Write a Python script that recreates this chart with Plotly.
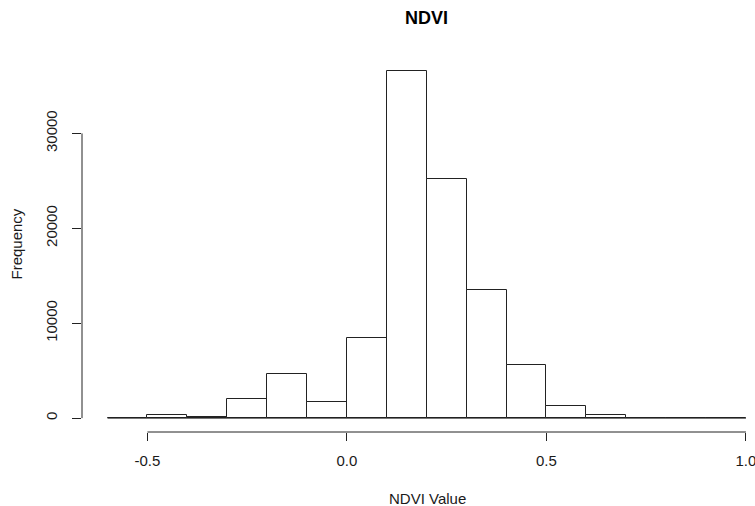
import plotly.graph_objects as go

# Data: histogram of NDVI values (bin edges and counts)
bin_edges = [-0.6, -0.5, -0.4, -0.3, -0.2, -0.1, 0.0, 0.1, 0.2, 0.3, 0.4, 0.5, 0.6, 0.7, 0.8, 0.9, 1.0]
counts = [0, 310, 170, 2060, 4630, 1750, 8420, 36590, 25190, 13540, 5640, 1260, 310, 0, 0, 0]
x_ticks = [-0.5, 0.0, 0.5, 1.0]
x_tick_labels = ["-0.5", "0.0", "0.5", "1.0"]
y_ticks = [0, 10000, 20000, 30000]
y_tick_labels = ["0", "10000", "20000", "30000"]

centers = [(a + b) / 2 for a, b in zip(bin_edges[:-1], bin_edges[1:])]
widths = [b - a for a, b in zip(bin_edges[:-1], bin_edges[1:])]

FONT = "Liberation Sans, Arial, sans-serif"

fig = go.Figure()
fig.add_trace(go.Bar(
    x=centers, y=counts, width=widths,
    marker=dict(color="white", line=dict(color="#222222", width=1)),
    hoverinfo="skip", showlegend=False,
))
# zero-height bins render as a baseline in R
fig.add_trace(go.Scatter(
    x=[bin_edges[0], bin_edges[-1]], y=[0, 0], mode="lines",
    line=dict(color="#222222", width=1), hoverinfo="skip", showlegend=False,
))

ymax = max(counts)
xr = [bin_edges[0] - 0.04 * (bin_edges[-1] - bin_edges[0]), 1.0227]
yr = [-0.04 * ymax, 1.04 * ymax]

fig.update_layout(
    width=755, height=506,
    margin=dict(l=82, r=0, t=57, b=74),
    paper_bgcolor="white", plot_bgcolor="white",
    font=dict(family=FONT, size=15, color="#1a1a1a"),
    bargap=0,
    title=dict(text="<b>NDVI</b>", x=0.565, xref="container", xanchor="center",
               y=1 - 18 / 506, yref="container", yanchor="middle",
               font=dict(family=FONT, size=18, color="black")),
    xaxis=dict(range=xr, showgrid=False, zeroline=False, showline=False,
               tickvals=x_ticks, ticktext=x_tick_labels, ticks="outside",
               ticklen=8, tickcolor="#222222", tickwidth=1,
               ticklabelstandoff=7, tickfont=dict(size=15), automargin=False,
               ticklabeloverflow="allow"),
    yaxis=dict(range=yr, showgrid=False, zeroline=False, showline=False,
               tickvals=y_ticks, ticktext=y_tick_labels, ticks="outside",
               ticklen=9, tickcolor="#222222", tickwidth=1, tickangle=-90,
               ticklabelstandoff=9, tickfont=dict(size=15), automargin=False,
               ticklabeloverflow="allow"),
    shapes=[
        dict(type="line", xref="x", yref="paper", x0=x_ticks[0], x1=x_ticks[-1], y0=0, y1=0,
             line=dict(color="#222222", width=1), layer="above"),
        dict(type="line", xref="paper", yref="y", x0=0, x1=0, y0=y_ticks[0], y1=y_ticks[-1],
             line=dict(color="#222222", width=1), layer="above"),
    ],
    annotations=[
        dict(text="NDVI Value", xref="paper", yref="paper", x=(428 - 82) / 673, y=-(498 - 432) / 375,
             showarrow=False, xanchor="center", yanchor="middle", font=dict(size=15)),
        dict(text="Frequency", xref="paper", yref="paper", x=-(82 - 16) / 673, y=0.5,
             showarrow=False, textangle=-90, xanchor="center", yanchor="middle", font=dict(size=15)),
    ],
)

fig.write_html(
    "out.html",
    config={"displayModeBar": False},
    post_script="document.body.style.margin='0';document.body.style.overflow='hidden';",
)
